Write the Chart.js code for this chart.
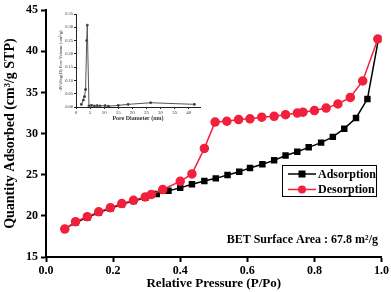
<!DOCTYPE html>
<html>
<head>
<meta charset="utf-8">
<script src="https://cdn.jsdelivr.net/npm/chart.js@4"></script>
<style>
  html, body { margin: 0; padding: 0; background: #fff; }
  #wrap { position: relative; width: 391px; height: 292px; }
  #main { position: absolute; left: 0; top: 0; }
  #inset { position: absolute; left: 55px; top: 5px; }
</style>
</head>
<body>
<div id="wrap">
  <canvas id="main" width="391" height="292"></canvas>
  <canvas id="inset" width="150" height="125"></canvas>
</div>
<script>
// isotherm data
let adsP = [0.056, 0.088, 0.123, 0.157, 0.192, 0.226, 0.261, 0.296, 0.33, 0.365, 0.40, 0.435, 0.472, 0.506,
  0.541, 0.576, 0.608, 0.645, 0.68, 0.714, 0.749, 0.783, 0.82, 0.855, 0.889, 0.924, 0.958, 0.991]
let adsQ = [18.4, 19.2, 19.8, 20.4, 20.9, 21.4, 21.8, 22.2, 22.65, 23.05, 23.4, 23.85, 24.25, 24.56,
  24.96, 25.36, 25.83, 26.27, 26.75, 27.33, 27.8, 28.33, 28.9, 29.6, 30.6, 31.9, 34.2, 41.5]

let desP = [0.056, 0.088, 0.123, 0.157, 0.192, 0.226, 0.261, 0.296, 0.314, 0.348, 0.40, 0.435, 0.472, 0.504,
  0.539, 0.574, 0.608, 0.643, 0.68, 0.714, 0.749, 0.766, 0.80, 0.835, 0.87, 0.907, 0.944, 0.989]
let desQ = [18.4, 19.3, 19.9, 20.5, 21.0, 21.5, 21.9, 22.3, 22.6, 23.2, 24.2, 25.1, 28.2, 31.4,
  31.5, 31.7, 31.8, 32.0, 32.1, 32.3, 32.5, 32.6, 32.8, 33.1, 33.6, 34.4, 36.4, 41.5]

let xTicks = [0.0, 0.2, 0.4, 0.6, 0.8, 1.0]
let yTicks = [15, 20, 25, 30, 35, 40, 45]

// pore size distribution (inset)
let poreD = [1.9, 2.6, 3.0, 3.4, 3.8, 4.0, 4.6, 5.5, 6.5, 7.5, 8.5, 10.3, 11.5, 15, 18.5, 26.5, 42]
let poreV = [0.01, 0.026, 0.039, 0.066, 0.25, 0.308, 0.004, 0.006, 0.004, 0.005, 0.004, 0.005, 0.003, 0.006, 0.01, 0.016, 0.01]
let poreXTicks = [0, 5, 10, 15, 20, 25, 30, 35, 40]
let poreYTicks = [0.00, 0.05, 0.10, 0.15, 0.20, 0.25, 0.30, 0.35]

let betText = "BET Surface Area : 67.8 m\u00b2/g"

const red = "#f2203d"
const serif = "'Liberation Serif', 'DejaVu Serif', serif"

function pts(xs, ys) {
  return xs.map((x, i) => ({x: x, y: ys[i]}))
}

// draws the legend box and the BET note inside the plot
const extras = {
  id: "extras",
  afterDraw(chart) {
    let ctx = chart.ctx
    ctx.save()
    ctx.strokeStyle = "#000"
    ctx.lineWidth = 1
    ctx.strokeRect(282.5, 165.5, 94, 31)
    ctx.font = "bold 12px " + serif
    ctx.textBaseline = "middle"
    let rows = [174, 189.5]
    chart.data.datasets.forEach((ds, i) => {
      let y = rows[i]
      ctx.strokeStyle = ds.borderColor
      ctx.lineWidth = 1.5
      ctx.beginPath(); ctx.moveTo(288, y); ctx.lineTo(316, y); ctx.stroke()
      ctx.fillStyle = ds.backgroundColor
      if (ds.pointStyle == "rect") ctx.fillRect(298.5, y - 3.5, 7, 7)
      else { ctx.beginPath(); ctx.arc(302, y, 4, 0, Math.PI * 2); ctx.fill() }
      ctx.fillStyle = "#000"
      ctx.textAlign = "left"
      ctx.fillText(ds.label, 318, y + 0.5)
    })
    ctx.textAlign = "right"
    ctx.fillText(betText, 378, 240)
    ctx.restore()
  }
}

new Chart(document.getElementById("main"), {
  type: "scatter",
  data: {
    datasets: [
      {
        label: "Adsorption",
        data: pts(adsP, adsQ),
        showLine: true,
        borderColor: "#000",
        backgroundColor: "#000",
        borderWidth: 1.5,
        pointStyle: "rect",
        pointRadius: 3.5,
        order: 2
      },
      {
        label: "Desorption",
        data: pts(desP, desQ),
        showLine: true,
        borderColor: red,
        backgroundColor: red,
        borderWidth: 1.5,
        pointStyle: "circle",
        pointRadius: 4,
        order: 1
      }
    ]
  },
  options: {
    responsive: false,
    animation: false,
    layout: {padding: {left: 0, top: 5, right: 7, bottom: 0}, autoPadding: false},
    plugins: {legend: {display: false}, tooltip: {enabled: false}},
    scales: {
      x: {
        type: "linear",
        min: 0, max: 1.0,
        afterBuildTicks: s => { s.ticks = xTicks.map(v => ({value: v})) },
        afterFit: s => { s.height = 35 },
        border: {color: "#000", width: 2},
        grid: {drawOnChartArea: false, drawTicks: true, tickLength: 5, tickWidth: 2, tickColor: "#000"},
        ticks: {color: "#000", padding: 2, font: {family: serif, size: 12, weight: "bold"},
          callback: v => v.toFixed(1)},
        title: {display: true, text: "Relative Pressure (P/Po)", color: "#000",
          font: {family: serif, size: 13, weight: "bold"}, padding: {top: 0, bottom: 1}}
      },
      y: {
        type: "linear",
        min: 15, max: 45,
        afterBuildTicks: s => { s.ticks = yTicks.map(v => ({value: v})) },
        afterFit: s => { s.width = 46 },
        border: {color: "#000", width: 2},
        grid: {drawOnChartArea: false, drawTicks: true, tickLength: 5, tickWidth: 2, tickColor: "#000"},
        ticks: {color: "#000", padding: 3, font: {family: serif, size: 12, weight: "bold"}},
        title: {display: true, text: "Quantity Adsorbed (cm\u00b3/g STP)", color: "#000",
          font: {family: serif, size: 14, weight: "bold"}, padding: {top: 2, bottom: 0}}
      }
    }
  },
  plugins: [extras]
})

// inset: pore size distribution
new Chart(document.getElementById("inset"), {
  type: "scatter",
  data: {
    datasets: [{
      data: pts(poreD, poreV),
      showLine: true,
      borderColor: "#555",
      backgroundColor: "#000",
      borderWidth: 1,
      pointRadius: 1.2,
      pointStyle: "rect"
    }]
  },
  options: {
    responsive: false,
    animation: false,
    layout: {padding: {left: 0, top: 9, right: 5, bottom: 0}, autoPadding: false},
    plugins: {legend: {display: false}, tooltip: {enabled: false}},
    scales: {
      x: {
        type: "linear",
        min: 0, max: 44,
        afterBuildTicks: s => { s.ticks = poreXTicks.map(v => ({value: v})) },
        afterFit: s => { s.height = 23 },
        border: {color: "#222", width: 1},
        grid: {drawOnChartArea: false, tickLength: 2, tickColor: "#222"},
        ticks: {color: "#333", padding: 1, font: {family: serif, size: 5}},
        title: {display: true, text: "Pore Diameter (nm)", color: "#333",
          font: {family: serif, size: 6, weight: "bold"}, padding: {top: 1, bottom: 8}}
      },
      y: {
        type: "linear",
        min: 0, max: 0.35,
        afterBuildTicks: s => { s.ticks = poreYTicks.map(v => ({value: v})) },
        afterFit: s => { s.width = 21 },
        border: {color: "#222", width: 1},
        grid: {drawOnChartArea: false, tickLength: 2, tickColor: "#222"},
        ticks: {color: "#333", padding: 1, font: {family: serif, size: 4.5}, callback: v => v.toFixed(2)},
        title: {display: true, text: "dV/dlog(D) Pore Volume (cm\u00b3/g)", color: "#333",
          font: {family: serif, size: 4.5}, padding: {top: 3, bottom: 0}}
      }
    }
  }
})
</script>
</body>
</html>
